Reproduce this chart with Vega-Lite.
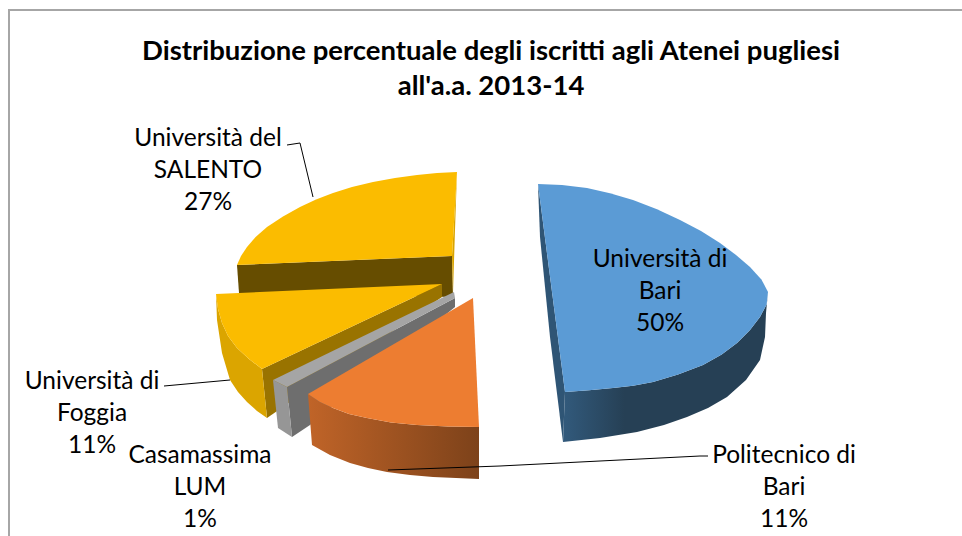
{"$schema":"https://vega.github.io/schema/vega-lite/v6.json","width":962,"height":536,"autosize":"none","padding":0,"background":"white","view":{"stroke":null},
"title":{"text":["Distribuzione percentuale degli iscritti agli Atenei pugliesi","all'a.a. 2013-14"],"anchor":"middle","dx":10,"offset":-128,"font":"Lato","fontSize":27.5,"fontWeight":"bold","color":"#000000","lineHeight":35,"baseline":"bottom"},
"datasets":{"outline":[
{"p":"a1","n":1,"x":237,"y":265},{"p":"a1","n":2,"x":452,"y":256},{"p":"a1","n":3,"x":453,"y":297},{"p":"a1","n":4,"x":239,"y":293},
{"p":"a2","n":1,"x":457,"y":172},{"p":"a2","n":2,"x":455,"y":230},{"p":"a2","n":3,"x":453,"y":293},{"p":"a2","n":4,"x":452,"y":256},
{"p":"a3","n":1,"x":457,"y":172},{"p":"a3","n":2,"x":437,"y":173},{"p":"a3","n":3,"x":417,"y":175},{"p":"a3","n":4,"x":395,"y":178},{"p":"a3","n":5,"x":373,"y":182},{"p":"a3","n":6,"x":352,"y":187},{"p":"a3","n":7,"x":333,"y":193},{"p":"a3","n":8,"x":316,"y":199.4},{"p":"a3","n":9,"x":300,"y":207},{"p":"a3","n":10,"x":283,"y":216.6},{"p":"a3","n":11,"x":267,"y":227},{"p":"a3","n":12,"x":255.6,"y":237},{"p":"a3","n":13,"x":247,"y":247},{"p":"a3","n":14,"x":241,"y":256},{"p":"a3","n":15,"x":237,"y":265},{"p":"a3","n":16,"x":452,"y":256},
{"p":"b1","n":1,"x":442,"y":284},{"p":"b1","n":2,"x":262,"y":369},{"p":"b1","n":3,"x":267,"y":418},{"p":"b1","n":4,"x":442,"y":297},
{"p":"b2","n":1,"x":216,"y":294},{"p":"b2","n":2,"x":217,"y":320},{"p":"b2","n":3,"x":222,"y":353},{"p":"b2","n":4,"x":230,"y":380},{"p":"b2","n":5,"x":238,"y":392},{"p":"b2","n":6,"x":247,"y":402},{"p":"b2","n":7,"x":257,"y":411},{"p":"b2","n":8,"x":267,"y":418},{"p":"b2","n":9,"x":262,"y":369},{"p":"b2","n":10,"x":249,"y":359},{"p":"b2","n":11,"x":237,"y":348},{"p":"b2","n":12,"x":228,"y":336},{"p":"b2","n":13,"x":222,"y":323},{"p":"b2","n":14,"x":218,"y":309},
{"p":"b3","n":1,"x":216,"y":294},{"p":"b3","n":2,"x":442,"y":284},{"p":"b3","n":3,"x":262,"y":369},{"p":"b3","n":4,"x":249,"y":359},{"p":"b3","n":5,"x":237,"y":348},{"p":"b3","n":6,"x":228,"y":336},{"p":"b3","n":7,"x":222,"y":323},{"p":"b3","n":8,"x":218,"y":309},
{"p":"c1","n":1,"x":287,"y":387},{"p":"c1","n":2,"x":455,"y":298},{"p":"c1","n":3,"x":455,"y":307},{"p":"c1","n":4,"x":310,"y":425},{"p":"c1","n":5,"x":292,"y":437},
{"p":"c2","n":1,"x":273,"y":380},{"p":"c2","n":2,"x":287,"y":387},{"p":"c2","n":3,"x":292,"y":437},{"p":"c2","n":4,"x":278,"y":428},
{"p":"c3","n":1,"x":273,"y":380},{"p":"c3","n":2,"x":454,"y":292},{"p":"c3","n":3,"x":455,"y":298},{"p":"c3","n":4,"x":287,"y":387},
{"p":"d1","n":1,"x":308,"y":394},{"p":"d1","n":2,"x":312,"y":445},{"p":"d1","n":3,"x":330,"y":455},{"p":"d1","n":4,"x":350,"y":463},{"p":"d1","n":5,"x":368,"y":468},{"p":"d1","n":6,"x":387,"y":472},{"p":"d1","n":7,"x":410,"y":475},{"p":"d1","n":8,"x":433,"y":477},{"p":"d1","n":9,"x":456,"y":478},{"p":"d1","n":10,"x":479,"y":479},{"p":"d1","n":11,"x":479,"y":427},{"p":"d1","n":12,"x":448,"y":426.5},{"p":"d1","n":13,"x":417,"y":425},{"p":"d1","n":14,"x":391,"y":422.5},{"p":"d1","n":15,"x":367,"y":418},{"p":"d1","n":16,"x":349,"y":414},{"p":"d1","n":17,"x":333,"y":408},{"p":"d1","n":18,"x":320,"y":402},
{"p":"d2","n":1,"x":473,"y":298},{"p":"d2","n":2,"x":308,"y":394},{"p":"d2","n":3,"x":320,"y":402},{"p":"d2","n":4,"x":333,"y":408},{"p":"d2","n":5,"x":349,"y":414},{"p":"d2","n":6,"x":367,"y":418},{"p":"d2","n":7,"x":391,"y":422.5},{"p":"d2","n":8,"x":417,"y":425},{"p":"d2","n":9,"x":448,"y":426.5},{"p":"d2","n":10,"x":479,"y":427},
{"p":"e1","n":1,"x":538,"y":184},{"p":"e1","n":2,"x":540,"y":237},{"p":"e1","n":3,"x":550,"y":337},{"p":"e1","n":4,"x":563,"y":442},{"p":"e1","n":5,"x":565,"y":392},
{"p":"e2","n":1,"x":565,"y":392},{"p":"e2","n":2,"x":589,"y":390.3},{"p":"e2","n":3,"x":613,"y":388},{"p":"e2","n":4,"x":633,"y":385.8},{"p":"e2","n":5,"x":653,"y":382},{"p":"e2","n":6,"x":678,"y":374.5},{"p":"e2","n":7,"x":703,"y":365},{"p":"e2","n":8,"x":721.7,"y":354.6},{"p":"e2","n":9,"x":737,"y":343},{"p":"e2","n":10,"x":750,"y":330},{"p":"e2","n":11,"x":760,"y":317},{"p":"e2","n":12,"x":766.6,"y":304.4},{"p":"e2","n":13,"x":768,"y":292},{"p":"e2","n":14,"x":766,"y":313},{"p":"e2","n":15,"x":765,"y":337},{"p":"e2","n":16,"x":760,"y":360},{"p":"e2","n":17,"x":746,"y":380},{"p":"e2","n":18,"x":727,"y":397},{"p":"e2","n":19,"x":708,"y":408},{"p":"e2","n":20,"x":687,"y":417},{"p":"e2","n":21,"x":664,"y":425},{"p":"e2","n":22,"x":637,"y":432},{"p":"e2","n":23,"x":600,"y":438},{"p":"e2","n":24,"x":563,"y":442},
{"p":"e3","n":1,"x":538,"y":184},{"p":"e3","n":2,"x":562,"y":185},{"p":"e3","n":3,"x":587,"y":188},{"p":"e3","n":4,"x":610,"y":193.2},{"p":"e3","n":5,"x":633,"y":200},{"p":"e3","n":6,"x":657,"y":209.3},{"p":"e3","n":7,"x":680,"y":220},{"p":"e3","n":8,"x":701,"y":231},{"p":"e3","n":9,"x":720,"y":243},{"p":"e3","n":10,"x":736,"y":255},{"p":"e3","n":11,"x":750,"y":267},{"p":"e3","n":12,"x":761.4,"y":279.4},{"p":"e3","n":13,"x":768,"y":292},{"p":"e3","n":14,"x":766.6,"y":304.4},{"p":"e3","n":15,"x":760,"y":317},{"p":"e3","n":16,"x":750,"y":330},{"p":"e3","n":17,"x":737,"y":343},{"p":"e3","n":18,"x":721.7,"y":354.6},{"p":"e3","n":19,"x":703,"y":365},{"p":"e3","n":20,"x":678,"y":374.5},{"p":"e3","n":21,"x":653,"y":382},{"p":"e3","n":22,"x":633,"y":385.8},{"p":"e3","n":23,"x":613,"y":388},{"p":"e3","n":24,"x":589,"y":390.3},{"p":"e3","n":25,"x":565,"y":392}
],
"leaders":[
{"p":"s","n":1,"x":287,"y":145},{"p":"s","n":2,"x":300,"y":143},{"p":"s","n":3,"x":313,"y":197},
{"p":"f","n":1,"x":164,"y":386},{"p":"f","n":2,"x":230,"y":380},
{"p":"b","n":1,"x":388,"y":470},{"p":"b","n":2,"x":500,"y":466},{"p":"b","n":3,"x":700,"y":456},{"p":"b","n":4,"x":708,"y":456},
{"p":"frame","n":1,"x":9,"y":536},{"p":"frame","n":2,"x":9,"y":10},{"p":"frame","n":3,"x":962,"y":10}
],
"labels":[
{"slice":"Università di Bari","share":50,"label":"Università di\nBari\n50%","x":660,"y":260},
{"slice":"Politecnico di Bari","share":11,"label":"Politecnico di\nBari\n11%","x":784,"y":456},
{"slice":"Casamassima LUM","share":1,"label":"Casamassima\nLUM\n1%","x":200,"y":456},
{"slice":"Università di Foggia","share":11,"label":"Università di\nFoggia\n11%","x":92,"y":382},
{"slice":"Università del SALENTO","share":27,"label":"Università del\nSALENTO\n27%","x":208,"y":139}
]},
"encoding":{
"x":{"field":"x","type":"quantitative","scale":{"domain":[0,962],"nice":false,"zero":false},"axis":null},
"y":{"field":"y","type":"quantitative","scale":{"domain":[536,0],"nice":false,"zero":false},"axis":null},
"order":{"field":"n","type":"quantitative"}},
"layer":[
{"data":{"name":"outline"},"transform":[{"filter":"datum.p==='a1'"}],"mark":{"type":"line","fill":"#664D00","strokeWidth":0,"interpolate":"linear-closed"}},
{"data":{"name":"outline"},"transform":[{"filter":"datum.p==='a2'"}],"mark":{"type":"line","fill":"#D9A400","strokeWidth":0,"interpolate":"linear-closed"}},
{"data":{"name":"outline"},"transform":[{"filter":"datum.p==='a3'"}],"mark":{"type":"line","fill":"#FBBC00","strokeWidth":0,"interpolate":"linear-closed"}},
{"data":{"name":"outline"},"transform":[{"filter":"datum.p==='b1'"}],"mark":{"type":"line","fill":"#997300","strokeWidth":0,"interpolate":"linear-closed"}},
{"data":{"name":"outline"},"transform":[{"filter":"datum.p==='b2'"}],"mark":{"type":"line","fill":"#DBA500","strokeWidth":0,"interpolate":"linear-closed"}},
{"data":{"name":"outline"},"transform":[{"filter":"datum.p==='b3'"}],"mark":{"type":"line","fill":"#FBBC00","strokeWidth":0,"interpolate":"linear-closed"}},
{"data":{"name":"outline"},"transform":[{"filter":"datum.p==='c1'"}],"mark":{"type":"line","fill":"#6E6E6E","strokeWidth":0,"interpolate":"linear-closed"}},
{"data":{"name":"outline"},"transform":[{"filter":"datum.p==='c2'"}],"mark":{"type":"line","fill":"#969696","strokeWidth":0,"interpolate":"linear-closed"}},
{"data":{"name":"outline"},"transform":[{"filter":"datum.p==='c3'"}],"mark":{"type":"line","fill":"#A5A5A5","strokeWidth":0,"interpolate":"linear-closed"}},
{"data":{"name":"outline"},"transform":[{"filter":"datum.p==='d1'"}],"mark":{"type":"line","strokeWidth":0,"interpolate":"linear-closed","fill":{"gradient":"linear","x1":0,"y1":0,"x2":1,"y2":0,"stops":[{"offset":0,"color":"#C06428"},{"offset":1,"color":"#7D421A"}]}}},
{"data":{"name":"outline"},"transform":[{"filter":"datum.p==='d2'"}],"mark":{"type":"line","fill":"#ED7D31","strokeWidth":0,"interpolate":"linear-closed"}},
{"data":{"name":"outline"},"transform":[{"filter":"datum.p==='e1'"}],"mark":{"type":"line","fill":"#2F5575","strokeWidth":0,"interpolate":"linear-closed"}},
{"data":{"name":"outline"},"transform":[{"filter":"datum.p==='e2'"}],"mark":{"type":"line","strokeWidth":0,"interpolate":"linear-closed","fill":{"gradient":"linear","x1":0,"y1":0,"x2":1,"y2":0,"stops":[{"offset":0,"color":"#325A7C"},{"offset":0.3,"color":"#264055"},{"offset":1,"color":"#264055"}]}}},
{"data":{"name":"outline"},"transform":[{"filter":"datum.p==='e3'"}],"mark":{"type":"line","fill":"#5B9BD5","strokeWidth":0,"interpolate":"linear-closed"}},
{"data":{"name":"leaders"},"transform":[{"filter":"datum.p!=='frame'"}],"mark":{"type":"line","stroke":"#000000","strokeWidth":1},"encoding":{"detail":{"field":"p"}}},
{"data":{"name":"leaders"},"transform":[{"filter":"datum.p==='frame'"}],"mark":{"type":"line","stroke":"#A6A6A6","strokeWidth":2}},
{"data":{"name":"labels"},"mark":{"type":"text","font":"Lato","fontSize":24.5,"color":"#000000","align":"center","baseline":"middle","lineBreak":"\n","lineHeight":32},"encoding":{"text":{"field":"label","type":"nominal"},"order":{"value":null}}}
]}
